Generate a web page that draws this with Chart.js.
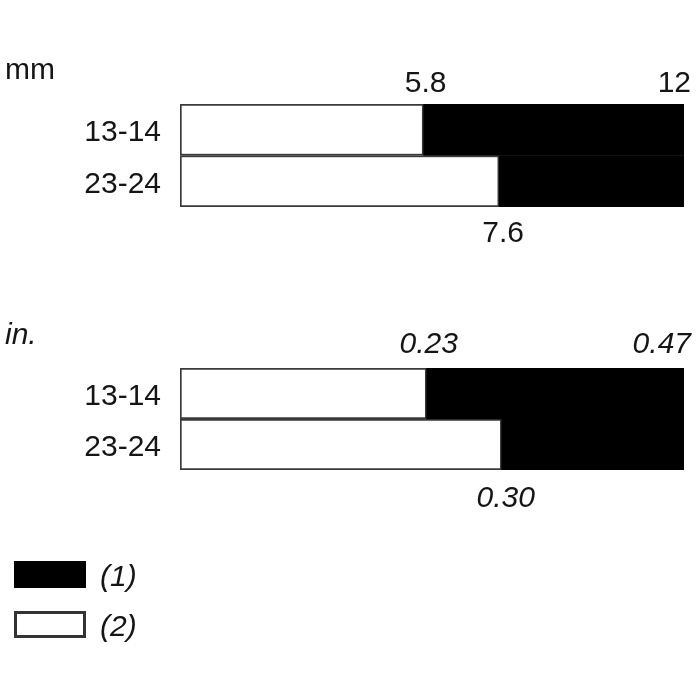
<!DOCTYPE html>
<html>
<head>
<meta charset="utf-8">
<script src="https://cdn.jsdelivr.net/npm/chart.js@4/dist/chart.umd.min.js"></script>
<style>
  html, body { margin: 0; padding: 0; background: #fff; }
  #wrap { position: relative; width: 700px; height: 700px; }
  canvas { position: absolute; left: 0; }
  #c1 { top: 0; }
  #c2 { top: 260px; }
</style>
</head>
<body>
<div id="wrap">
  <canvas id="c1" width="700" height="260"></canvas>
  <canvas id="c2" width="700" height="440"></canvas>
</div>
<script>
// ---- data ----
const categories = ["13-14", "23-24"];
const seriesNames = ["(1)", "(2)"];
const mmSplit = [5.8, 7.6];     // end of series (2) / start of series (1)
const mmTotal = [12, 12];
const inSplit = [0.23, 0.30];
const inTotal = [0.47, 0.47];
const unitLabels = ["mm", "in."];

const FONT = "'Liberation Sans', Arial, sans-serif";
const TXT = "#151515";

function makeChart(id, split, total, unit, italic, fmt, padTop, padBottom, unitY, topY, botY, withLegend) {
  const ctx = document.getElementById(id);
  const labelPlugin = {
    id: 'labels_' + id,
    afterDraw(chart) {
      const c = chart.ctx;
      const xs = chart.scales.x;
      c.save();
      c.fillStyle = TXT;
      c.textBaseline = 'alphabetic';
      // unit label
      c.font = (italic ? 'italic ' : '') + '30px ' + FONT;
      c.textAlign = 'left';
      c.fillText(unit, 5, unitY);
      // value labels
      c.font = (italic ? 'italic ' : '') + '30px ' + FONT;
      c.textAlign = 'center';
      c.fillText(fmt(split[0]), xs.getPixelForValue(split[0]) + 2, topY);
      c.textAlign = 'right';
      c.fillText(fmt(total[0]), xs.getPixelForValue(total[0]) + 7, topY);
      c.textAlign = 'center';
      c.fillText(fmt(split[1]), xs.getPixelForValue(split[1]) + 4, botY);
      // legend
      if (withLegend) {
        const ds = chart.data.datasets;
        const boxes = [{y: 301}, {y: 351}];
        ds.forEach((d, i) => {
          const by = boxes[i].y;
          c.fillStyle = d.backgroundColor;
          c.fillRect(14, by, 72, 27);
          c.lineWidth = 3;
          c.strokeStyle = i === 0 ? '#000' : '#333';
          c.strokeRect(15.5, by + 1.5, 69, 24);
          c.fillStyle = TXT;
          c.font = 'italic 30px ' + FONT;
          c.textAlign = 'left';
          c.fillText(d.label, 100, by + 25);
        });
      }
      c.restore();
    }
  };
  return new Chart(ctx, {
    type: 'bar',
    data: {
      labels: categories,
      datasets: [
        {
          label: seriesNames[0],
          data: split.map((s, i) => [s, total[i]]),
          backgroundColor: '#000',
          borderColor: '#000',
          borderWidth: 0,
          borderSkipped: false
        },
        {
          label: seriesNames[1],
          data: split.map(s => [0, s]),
          backgroundColor: '#fff',
          borderColor: '#3a3a3a',
          borderWidth: 2,
          borderSkipped: false
        }
      ]
    },
    options: {
      indexAxis: 'y',
      responsive: false,
      animation: false,
      maintainAspectRatio: false,
      layout: { padding: { top: padTop, bottom: padBottom, left: 0, right: 16 } },
      datasets: { bar: { grouped: false, barPercentage: 1, categoryPercentage: 1 } },
      plugins: { legend: { display: false }, tooltip: { enabled: false } },
      scales: {
        x: { display: false, min: 0, max: total[0] },
        y: {
          grid: { display: false, drawTicks: false },
          border: { display: false },
          ticks: { font: { family: FONT, size: 30 }, color: TXT, padding: 19, labelOffset: 3 },
          afterFit(axis) { axis.width = 180; }
        }
      }
    },
    plugins: [labelPlugin]
  });
}

makeChart('c1', mmSplit, mmTotal, unitLabels[0], false, v => String(v),
  104, 260 - 207, 79, 92, 242, false);
makeChart('c2', inSplit, inTotal, unitLabels[1], true, v => v.toFixed(2),
  368 - 260, 440 - (470 - 260), 344 - 260, 353 - 260, 507 - 260, true);
</script>
</body>
</html>
